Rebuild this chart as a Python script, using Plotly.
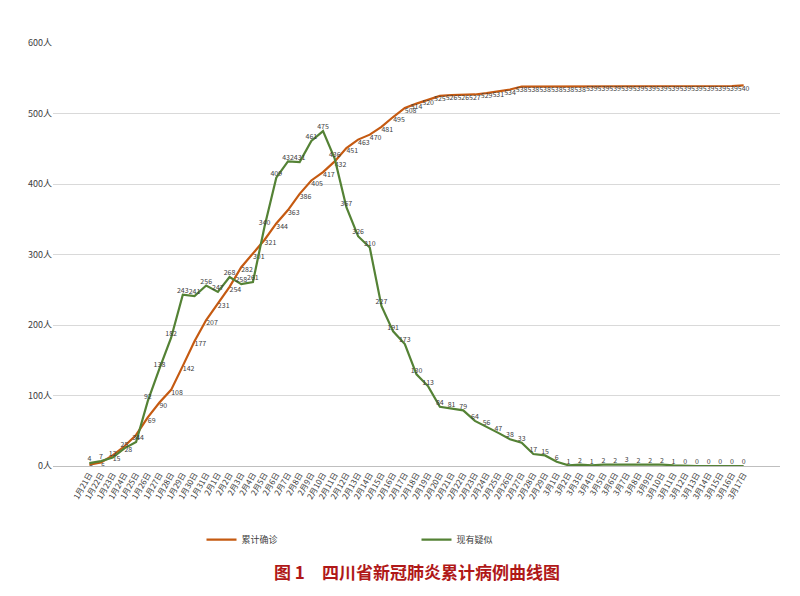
import plotly.graph_objects as go
import datetime as dt

start = dt.date(2020, 1, 21)
dates = [start + dt.timedelta(days=i) for i in range(57)]
categories = [f"{d.month}月{d.day}日" for d in dates]

confirmed = [2, 5, 15, 28, 44, 69, 90, 108, 142, 177, 207, 231, 254, 282, 301, 321, 344, 363, 386, 405,
             417, 432, 451, 463, 470, 481, 495, 508, 514, 520, 525, 526, 526, 527, 529, 531, 534,
             538, 538, 538, 538, 538, 538,
             539, 539, 539, 539, 539, 539, 539, 539, 539, 539, 539, 539, 539, 540]
suspected = [4, 7, 12, 25, 34, 92, 138, 182, 243, 241, 256, 247, 268, 258, 261, 340, 409, 432, 431, 461,
             475, 436, 367, 326, 310, 227, 191, 173, 130, 113, 84, 81, 79, 64, 56, 47, 38,
             33, 17, 15, 6, 1, 2, 1, 2, 2, 3, 2, 2, 2, 1, 0, 0, 0, 0, 0, 0]
yticks = [0, 100, 200, 300, 400, 500, 600]
ytick_text = [f"{v}人" for v in yticks]

conf_pos = ["bottom right" if i < 28 else "bottom center" for i in range(len(confirmed))]

font = "Noto Sans CJK SC"
fig = go.Figure()
fig.add_trace(go.Scatter(x=categories, y=confirmed, name="累计确诊", mode="lines+text",
                         line=dict(color="#c55a11", width=2.2),
                         text=[str(v) for v in confirmed], textposition=conf_pos,
                         textfont=dict(size=7, color="#404040")))
fig.add_trace(go.Scatter(x=categories, y=suspected, name="现有疑似", mode="lines+text",
                         line=dict(color="#548235", width=2.2),
                         text=[str(v) for v in suspected], textposition="top center",
                         textfont=dict(size=7, color="#404040")))
fig.update_layout(
    width=800, height=596, paper_bgcolor="white", plot_bgcolor="white",
    font=dict(family=font, size=9, color="#404040"),
    margin=dict(l=45, r=28, t=35, b=138),
    showlegend=True,
    legend=dict(orientation="h", x=0.5, xanchor="center", y=-0.14, yanchor="top",
                font=dict(size=9), entrywidth=170),
    xaxis=dict(type="category", tickangle=-60, tickfont=dict(size=8), showgrid=False,
               showline=True, linecolor="#bfbfbf", ticks=""),
    yaxis=dict(range=[0, 600], tickvals=yticks, ticktext=ytick_text, showgrid=True,
               gridcolor="#d9d9d9", zeroline=False, tickfont=dict(size=9)),
)
fig.add_annotation(text="<b>图 1　四川省新冠肺炎累计病例曲线图</b>", xref="paper", yref="paper",
                   x=0.5, y=-0.215, yanchor="top", showarrow=False,
                   font=dict(size=17, color="#b01818", family=font))
fig.write_html("out.html")
